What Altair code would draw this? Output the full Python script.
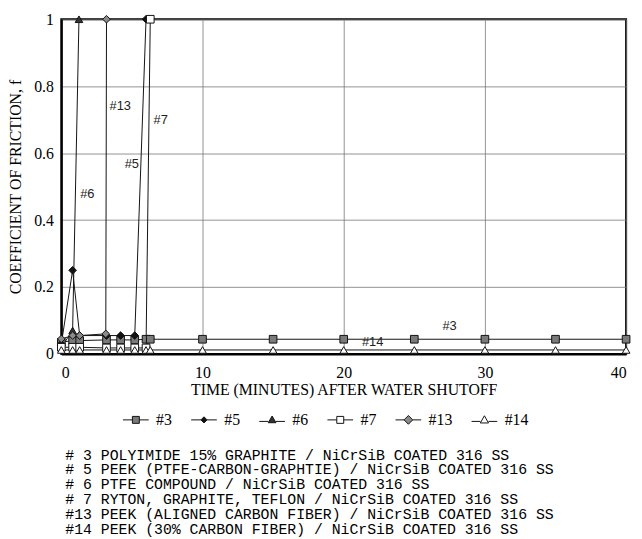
import altair as alt
import pandas as pd

# ---- data ----
series_order = ["#3", "#5", "#6", "#7", "#13", "#14"]

t_3 = [0, 0.8, 1.3, 3.2, 4.2, 5.2, 6.0, 6.3, 10, 15, 20, 25, 30, 35, 40]
f_3 = [0.035, 0.04, 0.04, 0.042, 0.042, 0.042, 0.044, 0.044, 0.044, 0.044, 0.044, 0.044, 0.044, 0.044, 0.044]

t_5 = [0, 0.8, 1.3, 3.2, 4.2, 5.2, 6.0]
f_5 = [0.03, 0.25, 0.055, 0.055, 0.055, 0.055, 1.0]

t_6 = [0, 0.8, 1.25]
f_6 = [0.02, 0.07, 1.0]

t_7 = [0, 0.8, 1.3, 3.2, 4.2, 5.2, 6.0, 6.3]
f_7 = [0.02, 0.02, 0.02, 0.018, 0.018, 0.018, 0.018, 1.0]

t_13 = [0, 0.8, 1.3, 3.15, 3.2]
f_13 = [0.045, 0.055, 0.055, 0.06, 1.0]

t_14 = [0, 0.8, 1.3, 3.2, 4.2, 5.2, 6.0, 6.3, 10, 15, 20, 25, 30, 35, 40]
f_14 = [0.012, 0.012, 0.012, 0.012, 0.012, 0.012, 0.012, 0.012, 0.012, 0.012, 0.012, 0.012, 0.012, 0.012, 0.012]

ann_labels = ["#13", "#7", "#5", "#6", "#3", "#14"]
ann_t = [4.17, 7.04, 4.99, 1.84, 27.5, 22.05]
ann_f = [0.74, 0.70, 0.566, 0.478, 0.083, 0.035]

x_ticks = [0, 10, 20, 30, 40]
y_ticks = [0, 0.2, 0.4, 0.6, 0.8, 1]

notes = [
    "# 3 POLYIMIDE 15% GRAPHITE / NiCrSiB COATED 316 SS",
    "# 5 PEEK (PTFE-CARBON-GRAPHTIE) / NiCrSiB COATED 316 SS",
    "# 6 PTFE COMPOUND / NiCrSiB COATED 316 SS",
    "# 7 RYTON, GRAPHITE, TEFLON / NiCrSiB COATED 316 SS",
    "#13 PEEK (ALIGNED CARBON FIBER) / NiCrSiB COATED 316 SS",
    "#14 PEEK (30% CARBON FIBER) / NiCrSiB COATED 316 SS",
]

# ---- styling ----
marker_shapes = ["square", "diamond", "triangle-up", "square", "diamond", "triangle-up"]
marker_fills = ["#7a7a7a", "#111111", "#333333", "#ffffff", "#8a8a8a", "#ffffff"]
legend_shapes = [
    "M-1,0H-0.27M0.27,0H1M-0.27,-0.27H0.27V0.27H-0.27Z",
    "M-1,0H-0.24M0.24,0H1M-0.24,0L0,-0.24L0.24,0L0,0.24Z",
    "M-1,0.12H-0.3M0.3,0.12H1M0,-0.3L0.3,0.22L-0.3,0.22Z",
    "M-1,0H-0.27M0.27,0H1M-0.27,-0.27H0.27V0.27H-0.27Z",
    "M-1,0H-0.34M0.34,0H1M-0.34,0L0,-0.34L0.34,0L0,0.34Z",
    "M-1,0.12H-0.32M0.32,0.12H1M0,-0.32L0.32,0.24L-0.32,0.24Z",
]
legend_strokes = ["#111111"] * 6
legend_sizes = [676] * 6

rows = []
for name, ts, fs in [("#3", t_3, f_3), ("#5", t_5, f_5), ("#6", t_6, f_6),
                     ("#7", t_7, f_7), ("#13", t_13, f_13), ("#14", t_14, f_14)]:
    for t, f in zip(ts, fs):
        rows.append({"series": name, "t": t, "f": f})
df = pd.DataFrame(rows)
ann = pd.DataFrame({"label": ann_labels, "t": ann_t, "f": ann_f})

serif = "Liberation Serif"

x_enc = alt.X("t:Q", scale=alt.Scale(domain=[0, 40], nice=False),
              axis=alt.Axis(values=x_ticks, title="TIME (MINUTES) AFTER WATER SHUTOFF",
                            labelPadding=11, titlePadding=1, format="d"))
y_enc = alt.Y("f:Q", scale=alt.Scale(domain=[0, 1], nice=False),
              axis=alt.Axis(values=y_ticks, title="COEFFICIENT OF FRICTION, f",
                            labelPadding=8, titlePadding=10, format="~g"))

base = alt.Chart(df)

lines = base.mark_line(color="#111111", strokeWidth=1).encode(
    x=x_enc, y=y_enc, detail="series:N"
)

pts = base.mark_point(size=60, stroke="#111111", strokeWidth=1, opacity=1, filled=False).encode(
    x="t:Q", y="f:Q",
    shape=alt.Shape("series:N", scale=alt.Scale(domain=series_order, range=marker_shapes), legend=None),
    fill=alt.Fill("series:N", scale=alt.Scale(domain=series_order, range=marker_fills), legend=None),
)


def leg_def():
    return alt.Legend(title=None, orient="none", direction="horizontal",
                      legendX=62, legendY=392, symbolStrokeWidth=1,
                      labelFont=serif, labelFontSize=16, labelColor="black",
                      labelOffset=7, columnPadding=17, padding=0, columns=6)


# legend-only layer: draws nothing (explicit domains keep every entry)
leg = base.transform_filter("false").mark_point(opacity=1, strokeWidth=1, filled=True).encode(
    x="t:Q", y="f:Q",
    shape=alt.Shape("series:N", scale=alt.Scale(domain=series_order, range=legend_shapes),
                    legend=leg_def()),
    fill=alt.Fill("series:N", scale=alt.Scale(domain=series_order, range=marker_fills),
                  legend=leg_def()),
    stroke=alt.Stroke("series:N", scale=alt.Scale(domain=series_order, range=legend_strokes),
                      legend=leg_def()),
    size=alt.Size("series:N", scale=alt.Scale(domain=series_order, range=legend_sizes),
                  legend=leg_def()),
)

labels = alt.Chart(ann).mark_text(font="Liberation Sans", fontSize=13, color="#222222").encode(
    x="t:Q", y="f:Q", text="label:N"
)

chart = alt.layer(lines, pts, leg, labels).resolve_scale(
    shape="independent", fill="independent", stroke="independent", size="independent"
).properties(
    width=572, height=339,
    autosize=alt.AutoSizeParams(type="none"),
    padding={"left": 54, "top": 8, "right": 8, "bottom": 184},
    title=alt.Title(text=notes, orient="bottom", anchor="start", frame="group",
                    font="Liberation Mono", fontSize=15, fontWeight="normal",
                    lineHeight=15, offset=20, dx=4, color="black"),
).configure_view(
    stroke="black", strokeWidth=2
).configure_axis(
    domainColor="black", domainWidth=2, gridColor="#777777", gridWidth=0.8,
    ticks=False, labelFont=serif, labelFontSize=16, titleFont=serif,
    titleFontSize=16, titleFontWeight="normal", labelColor="black", titleColor="black"
)

chart.save("out.html", embed_options={"renderer": "svg", "actions": False})
